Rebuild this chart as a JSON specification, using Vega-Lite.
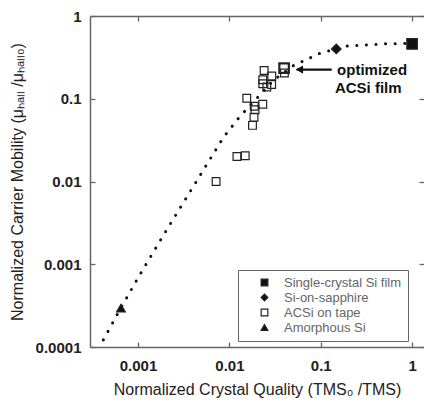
{
  "$schema": "https://vega.github.io/schema/vega-lite/v6.json",
  "width": 334,
  "height": 331,
  "autosize": {"type": "none"},
  "padding": {"left": 90, "top": 16, "right": 0, "bottom": 60},
  "background": "white",
  "datasets": {
    "pts": [
      {"x": 1.0, "y": 0.46, "type": "Single-crystal Si film", "note": ""},
      {"x": 0.148, "y": 0.40, "type": "Si-on-sapphire", "note": ""},
      {"x": 0.00065, "y": 0.000295, "type": "Amorphous Si", "note": ""},
      {"x": 0.00715, "y": 0.01, "type": "ACSi on tape", "note": ""},
      {"x": 0.0121, "y": 0.0201, "type": "ACSi on tape", "note": ""},
      {"x": 0.0149, "y": 0.0205, "type": "ACSi on tape", "note": ""},
      {"x": 0.0155, "y": 0.1015, "type": "ACSi on tape", "note": ""},
      {"x": 0.0179, "y": 0.0477, "type": "ACSi on tape", "note": ""},
      {"x": 0.0186, "y": 0.0599, "type": "ACSi on tape", "note": ""},
      {"x": 0.0191, "y": 0.0737, "type": "ACSi on tape", "note": ""},
      {"x": 0.0187, "y": 0.081, "type": "ACSi on tape", "note": ""},
      {"x": 0.0232, "y": 0.086, "type": "ACSi on tape", "note": ""},
      {"x": 0.0240, "y": 0.219, "type": "ACSi on tape", "note": ""},
      {"x": 0.0232, "y": 0.17, "type": "ACSi on tape", "note": ""},
      {"x": 0.0232, "y": 0.152, "type": "ACSi on tape", "note": ""},
      {"x": 0.0257, "y": 0.139, "type": "ACSi on tape", "note": ""},
      {"x": 0.0291, "y": 0.188, "type": "ACSi on tape", "note": ""},
      {"x": 0.0290, "y": 0.149, "type": "ACSi on tape", "note": ""},
      {"x": 0.0400, "y": 0.205, "type": "ACSi on tape", "note": ""},
      {"x": 0.0397, "y": 0.234, "type": "ACSi on tape", "note": "optimized"}
    ],
    "fit": [
      {"x": 0.000417, "y": 0.000122},
      {"x": 0.000647, "y": 0.000295},
      {"x": 0.00105, "y": 0.000751},
      {"x": 0.00189, "y": 0.00223},
      {"x": 0.00313, "y": 0.00553},
      {"x": 0.00519, "y": 0.01375},
      {"x": 0.00859, "y": 0.0341},
      {"x": 0.0131, "y": 0.0615},
      {"x": 0.02, "y": 0.1014},
      {"x": 0.0303, "y": 0.167},
      {"x": 0.0502, "y": 0.251},
      {"x": 0.0984, "y": 0.355},
      {"x": 0.193, "y": 0.433},
      {"x": 0.53, "y": 0.462},
      {"x": 1.33, "y": 0.466}
    ],
    "arrow": [{"x": 0.0545, "x2": 0.132, "y": 0.225}],
    "head": [{"x": 0.0585, "y": 0.225}],
    "labels": [
      {"x": 0.151, "y": 0.225, "text": "optimized"},
      {"x": 0.143, "y": 0.136, "text": "ACSi film"}
    ]
  },
  "layer": [
    {
      "data": {"name": "fit"},
      "mark": {"type": "line", "color": "#111", "strokeWidth": 3, "strokeCap": "round", "strokeDash": [0.1, 9.5], "clip": true},
      "encoding": {
        "x": {"field": "x", "type": "quantitative", "scale": {"type": "log", "domain": [0.000298, 1.35], "nice": false},
          "axis": {"orient": "top", "labels": false, "title": null, "tickSize": -5, "values": [0.001, 0.01, 0.1, 1]}},
        "y": {"field": "y", "type": "quantitative", "scale": {"type": "log", "domain": [0.0001, 1], "nice": false},
          "axis": {"orient": "right", "labels": false, "title": null, "domain": false, "tickSize": -5, "values": [0.0001, 0.001, 0.01, 0.1, 1]}}
      }
    },
    {
      "data": {"name": "pts"},
      "transform": [{"filter": "datum.note !== 'optimized'"}],
      "mark": {"type": "point", "filled": false, "strokeWidth": 1.2, "opacity": 1},
      "encoding": {
        "x": {"field": "x", "type": "quantitative",
          "axis": {"orient": "bottom", "title": "Normalized Crystal Quality (TMS₀ /TMS)", "tickSize": -5, "labelPadding": 16, "titlePadding": 8, "values": [0.001, 0.01, 0.1, 1], "labelExpr": "format(datum.value, '')"}},
        "y": {"field": "y", "type": "quantitative",
          "axis": {"orient": "left", "title": "Normalized Carrier Mobility (μₕₐₗₗ /μₕₐₗₗ₀)", "tickSize": -5, "labelPadding": 14, "titlePadding": 10, "values": [0.0001, 0.001, 0.01, 0.1, 1], "labelExpr": "format(datum.value, '')"}},
        "shape": {"field": "type", "type": "nominal",
          "scale": {"domain": ["Single-crystal Si film", "Si-on-sapphire", "ACSi on tape", "Amorphous Si"], "range": ["square", "diamond", "square", "triangle-up"]},
          "legend": {"title": null, "orient": "none", "legendX": 148, "legendY": 254}},
        "fill": {"field": "type", "type": "nominal",
          "scale": {"domain": ["Single-crystal Si film", "Si-on-sapphire", "ACSi on tape", "Amorphous Si"], "range": ["#111", "#111", "transparent", "#111"]},
          "legend": {"title": null, "orient": "none", "legendX": 148, "legendY": 254}},
        "stroke": {"field": "type", "type": "nominal",
          "scale": {"domain": ["Single-crystal Si film", "Si-on-sapphire", "ACSi on tape", "Amorphous Si"], "range": ["#222", "#222", "#222", "#222"]},
          "legend": {"title": null, "orient": "none", "legendX": 148, "legendY": 254}},
        "size": {"field": "type", "type": "nominal",
          "scale": {"domain": ["ACSi on tape", "Amorphous Si", "Si-on-sapphire", "Single-crystal Si film"], "range": [60, 110, 35, 42]},
          "legend": null}
      }
    },
    {
      "data": {"name": "pts"},
      "transform": [{"filter": "datum.note === 'optimized'"}],
      "mark": {"type": "point", "shape": "square", "filled": false, "size": 90, "strokeWidth": 2.2, "stroke": "#222", "opacity": 1},
      "encoding": {
        "x": {"field": "x", "type": "quantitative", "axis": null},
        "y": {"field": "y", "type": "quantitative", "axis": null}
      }
    },
    {
      "data": {"name": "arrow"},
      "mark": {"type": "rule", "strokeWidth": 2.2, "color": "#111"},
      "encoding": {
        "x": {"field": "x", "type": "quantitative", "axis": null},
        "x2": {"field": "x2"},
        "y": {"field": "y", "type": "quantitative", "axis": null}
      }
    },
    {
      "data": {"name": "head"},
      "mark": {"type": "point", "shape": "triangle-left", "filled": true, "color": "#111", "size": 70, "opacity": 1},
      "encoding": {
        "x": {"field": "x", "type": "quantitative", "axis": null},
        "y": {"field": "y", "type": "quantitative", "axis": null}
      }
    },
    {
      "data": {"name": "labels"},
      "mark": {"type": "text", "align": "left", "baseline": "middle", "font": "Liberation Sans", "fontSize": 15, "fontWeight": "bold", "color": "#111"},
      "encoding": {
        "x": {"field": "x", "type": "quantitative", "axis": null},
        "y": {"field": "y", "type": "quantitative", "axis": null},
        "text": {"field": "text"}
      }
    }
  ],
  "resolve": {"axis": {"x": "independent", "y": "independent"}},
  "config": {
    "font": "Liberation Sans",
    "view": {"stroke": null},
    "legend": {
      "strokeColor": "#666",
      "padding": 6,
      "symbolOffset": 14,
      "labelOffset": 13,
      "labelFontSize": 13,
      "labelColor": "#666",
      "labelFont": "Liberation Sans",
      "rowPadding": 1,
      "symbolSize": 45,
      "symbolStrokeWidth": 1.2,
      "fillColor": "white"
    },
    "axis": {
      "domainColor": "#666",
      "domainWidth": 1.5,
      "tickColor": "#666",
      "tickWidth": 1.3,
      "grid": false,
      "labelFont": "Liberation Sans",
      "labelFontWeight": "bold",
      "labelFontSize": 15,
      "labelColor": "#222",
      "titleFont": "Liberation Sans",
      "titleFontSize": 16,
      "titleFontWeight": "normal",
      "titleColor": "#222"
    }
  }
}
